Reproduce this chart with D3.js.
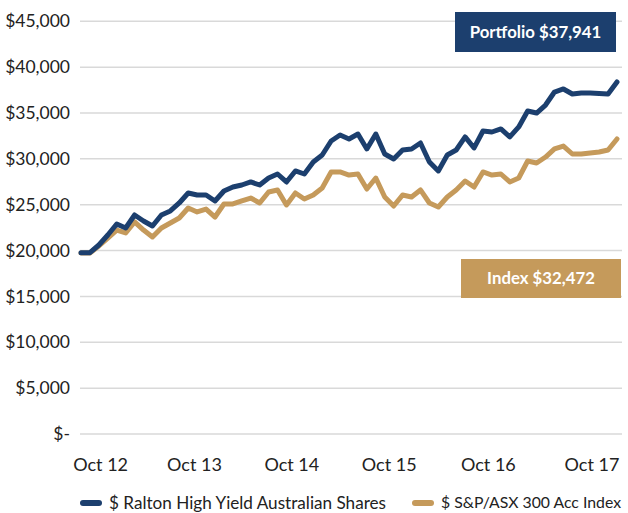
<!DOCTYPE html>
<html>
<head>
<meta charset="utf-8">
<script src="https://cdn.jsdelivr.net/npm/d3@7"></script>
<style>
  body { margin: 0; background: #fff; }
  svg text { font-family: Lato, "Open Sans", sans-serif; fill: #222; }
</style>
</head>
<body>
<div id="chart"></div>
<script>
// values, one point per month
var portfolio = [19770, 19770, 20610, 21700, 22900, 22460, 23880, 23230, 22680, 23880,
    24320, 25190, 26280, 26060, 26060, 25410, 26500, 26930, 27150, 27480,
    27150, 27910, 28350, 27480, 28680, 28350, 29660, 30420, 31950, 32600,
    32170, 32710, 31080, 32710, 30530, 29990, 30970, 31080, 31730, 29660,
    28680, 30420, 30970, 32390, 31190, 33040, 32930, 33260, 32390, 33480,
    35220, 35000, 35870, 37290, 37620, 37070, 37180, 37180, 37130, 37070,
    38380];
var index = [19740, 19740, 20500, 21370, 22240, 21920, 23120, 22240, 21480, 22460,
    23010, 23550, 24640, 24210, 24530, 23660, 25080, 25080, 25410, 25730,
    25190, 26390, 26610, 24970, 26280, 25620, 26060, 26820, 28570, 28570,
    28240, 28350, 26710, 27910, 25840, 24860, 26060, 25840, 26610, 25190,
    24750, 25840, 26610, 27590, 26930, 28570, 28240, 28350, 27480, 27910,
    29770, 29550, 30200, 31080, 31400, 30530, 30530, 30640, 30750, 30970,
    32170];
var xLabels = ["Oct 12", "Oct 13", "Oct 14", "Oct 15", "Oct 16", "Oct 17"];
var xLabelAt = [2.2, 12.7, 23.6, 34.5, 45.6, 57.2];
var yTicks = [0, 5000, 10000, 15000, 20000, 25000, 30000, 35000, 40000, 45000];
var seriesNames = ["$ Ralton High Yield Australian Shares", "$ S&P/ASX 300 Acc Index"];
var boxLabels = ["Portfolio $37,941", "Index $32,472"];

var navy = "#1c3f6e";
var gold = "#c59a5b";

var width = 628, height = 513;
var svg = d3.select("#chart").append("svg")
    .attr("width", width)
    .attr("height", height);

var x = d3.scaleLinear().domain([0, portfolio.length - 1]).range([81, 617]);
var y = d3.scaleLinear().domain([0, 45000]).range([434, 21.3]);

// gridlines
svg.append("g")
    .selectAll("line")
    .data(yTicks)
    .enter()
    .append("line")
    .attr("x1", 80)
    .attr("x2", 622)
    .attr("y1", function(d) { return y(d); })
    .attr("y2", function(d) { return y(d); })
    .style("stroke", "#d9d9d9")
    .style("stroke-width", 1.5);

// y labels
svg.append("g")
    .selectAll("text")
    .data(yTicks)
    .enter()
    .append("text")
    .attr("x", 70)
    .attr("y", function(d) { return y(d); })
    .attr("dy", "0.35em")
    .style("text-anchor", "end")
    .style("font-size", "17.5px")
    .text(function(d) {
        return d === 0 ? "$-" : "$" + d3.format(",")(d);
    });

// x labels
svg.append("g")
    .selectAll("text")
    .data(xLabels)
    .enter()
    .append("text")
    .attr("x", function(d, i) { return x(xLabelAt[i]); })
    .attr("y", 465)
    .attr("dy", "0.35em")
    .style("text-anchor", "middle")
    .style("font-size", "18px")
    .text(function(d) { return d; });

var line = d3.line()
    .x(function(d, i) { return x(i); })
    .y(function(d) { return y(d); });

[[index, gold], [portfolio, navy]].forEach(function(s) {
    svg.append("path")
        .datum(s[0])
        .attr("d", line)
        .style("fill", "none")
        .style("stroke", s[1])
        .style("stroke-width", 5)
        .style("stroke-linejoin", "round")
        .style("stroke-linecap", "round");
});

// value boxes
var boxes = [
    {x: 455, y: 12, w: 161, h: 40, col: navy, text: boxLabels[0]},
    {x: 461, y: 259, w: 160, h: 39, col: gold, text: boxLabels[1]}
];
boxes.forEach(function(b) {
    svg.append("rect")
        .attr("x", b.x).attr("y", b.y)
        .attr("width", b.w).attr("height", b.h)
        .style("fill", b.col);
    svg.append("text")
        .attr("x", b.x + b.w / 2)
        .attr("y", b.y + b.h / 2)
        .attr("dy", "0.35em")
        .style("text-anchor", "middle")
        .style("font-size", "16.8px")
        .style("font-weight", "bold")
        .style("fill", "#fff")
        .text(b.text);
});

// legend (text squeezed to the reference's widths)
var legend = svg.append("g");
var legX = [80, 412];
var legW = [277, 180];
var legSize = [17, 15.5];
seriesNames.forEach(function(name, i) {
    legend.append("line")
        .attr("x1", legX[i] + 3).attr("x2", legX[i] + 19)
        .attr("y1", 503).attr("y2", 503)
        .style("stroke", i === 0 ? navy : gold)
        .style("stroke-width", 6)
        .style("stroke-linecap", "round");
    legend.append("text")
        .attr("x", legX[i] + 29)
        .attr("y", 503)
        .attr("dy", "0.35em")
        .attr("textLength", legW[i])
        .attr("lengthAdjust", "spacingAndGlyphs")
        .style("font-size", legSize[i] + "px")
        .text(name);
});
</script>
</body>
</html>
